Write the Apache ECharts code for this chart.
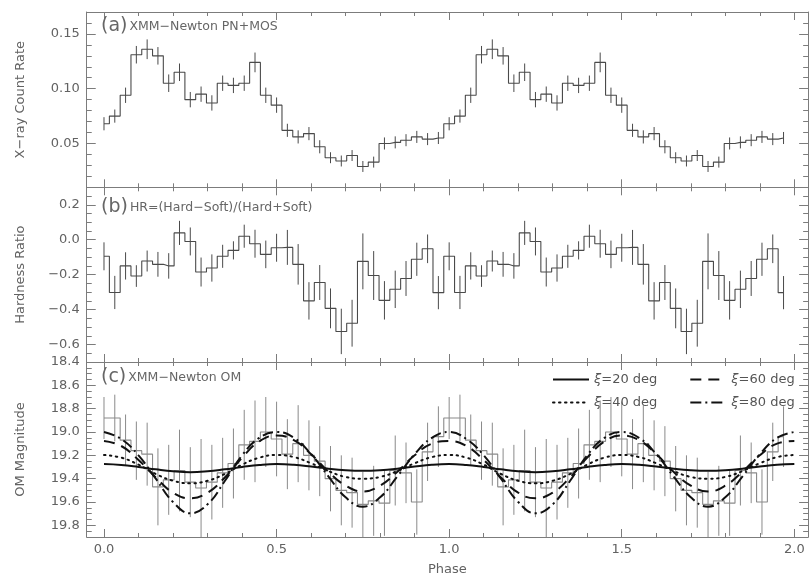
<!DOCTYPE html>
<html><head><meta charset="utf-8">
<script src="https://cdn.jsdelivr.net/npm/echarts@6/dist/echarts.min.js"></script>
<style>html,body{margin:0;padding:0;background:#fff}#c{width:809px;height:580px}</style>
</head><body><div id="c"></div>
<script>
// ---- data (one phase cycle; the figure shows the folded light curve twice) ----
const phaseBins = [0, 0.03125, 0.0625, 0.09375, 0.125, 0.15625, 0.1875, 0.21875, 0.25, 0.28125, 0.3125, 0.34375, 0.375, 0.40625, 0.4375, 0.46875,
  0.5, 0.53125, 0.5625, 0.59375, 0.625, 0.65625, 0.6875, 0.71875, 0.75, 0.78125, 0.8125, 0.84375, 0.875, 0.90625, 0.9375, 0.96875];
const cycles = [0, 1];

const countRate = [0.068, 0.075, 0.094, 0.131, 0.136, 0.130, 0.105, 0.115, 0.090, 0.095, 0.087, 0.105, 0.103, 0.105, 0.124, 0.094,
  0.085, 0.062, 0.056, 0.059, 0.047, 0.037, 0.034, 0.039, 0.029, 0.033, 0.050, 0.051, 0.053, 0.056, 0.054, 0.055];
const countRateErr = [0.006, 0.006, 0.007, 0.008, 0.009, 0.008, 0.008, 0.008, 0.007, 0.007, 0.007, 0.007, 0.007, 0.007, 0.009, 0.007,
  0.007, 0.006, 0.006, 0.006, 0.006, 0.005, 0.005, 0.005, 0.005, 0.005, 0.0055, 0.0055, 0.0055, 0.0055, 0.0055, 0.0055];

const hardness = [-0.095, -0.302, -0.150, -0.208, -0.122, -0.141, -0.150, 0.039, -0.010, -0.185, -0.162, -0.095, -0.061, 0.020, -0.023, -0.084,
  -0.046, -0.044, -0.141, -0.350, -0.245, -0.393, -0.525, -0.478, -0.124, -0.205, -0.347, -0.284, -0.222, -0.112, -0.052, -0.303];
const hardnessErr = [0.080, 0.095, 0.078, 0.062, 0.060, 0.071, 0.073, 0.069, 0.080, 0.083, 0.078, 0.066, 0.052, 0.066, 0.080, 0.079,
  0.080, 0.100, 0.116, 0.107, 0.100, 0.114, 0.130, 0.134, 0.160, 0.140, 0.110, 0.107, 0.100, 0.095, 0.082, 0.095];

const omMag = [18.88, 18.88, 19.07, 19.16, 19.19, 19.47, 19.41, 19.33, 19.43, 19.48, 19.43, 19.35, 19.27, 19.11, 19.08, 19.00,
  19.06, 19.19, 19.10, 19.20, 19.25, 19.40, 19.50, 19.52, 19.62, 19.59, 19.61, 19.33, 19.35, 19.60, 19.17, 19.04];
const omMagErr = [0.18, 0.20, 0.22, 0.25, 0.27, 0.33, 0.30, 0.35, 0.30, 0.42, 0.32, 0.30, 0.30, 0.30, 0.35, 0.30,
  0.32, 0.30, 0.33, 0.30, 0.30, 0.28, 0.30, 0.30, 0.28, 0.30, 0.28, 0.30, 0.26, 0.28, 0.25, 0.26];

const modelPhase = [0, 0.05, 0.10, 0.15, 0.20, 0.25, 0.30, 0.35, 0.40, 0.45, 0.50, 0.55, 0.60, 0.65, 0.70, 0.75, 0.80, 0.85, 0.90, 0.95];
const model20 = [19.275, 19.283, 19.300, 19.320, 19.337, 19.345, 19.337, 19.320, 19.300, 19.283, 19.275, 19.281, 19.296, 19.314, 19.327, 19.332, 19.327, 19.314, 19.296, 19.281];
const model40 = [19.197, 19.220, 19.280, 19.360, 19.418, 19.440, 19.418, 19.360, 19.280, 19.220, 19.197, 19.215, 19.268, 19.335, 19.385, 19.400, 19.385, 19.335, 19.268, 19.215];
const model60 = [19.077, 19.120, 19.240, 19.390, 19.520, 19.568, 19.520, 19.390, 19.220, 19.080, 19.030, 19.070, 19.190, 19.340, 19.460, 19.510, 19.460, 19.340, 19.200, 19.100];
const model80 = [19.000, 19.060, 19.200, 19.400, 19.600, 19.697, 19.620, 19.420, 19.200, 19.050, 19.000, 19.050, 19.190, 19.380, 19.560, 19.640, 19.560, 19.380, 19.190, 19.050];
const modelNames = ['ξ=20 deg', 'ξ=40 deg', 'ξ=60 deg', 'ξ=80 deg'];

// ---- ticks ----
const xMajorTicks = [0, 0.5, 1.0, 1.5, 2.0];
const xMinorTicks = [0.1, 0.2, 0.3, 0.4, 0.6, 0.7, 0.8, 0.9, 1.1, 1.2, 1.3, 1.4, 1.6, 1.7, 1.8, 1.9];
const aMajorTicks = [0.05, 0.10, 0.15];
const aMinorTicks = [0.02, 0.03, 0.04, 0.06, 0.07, 0.08, 0.09, 0.11, 0.12, 0.13, 0.14, 0.16];
const bMajorTicks = [-0.6, -0.4, -0.2, 0.0, 0.2];
const bMinorTicks = [-0.65, -0.55, -0.5, -0.45, -0.35, -0.3, -0.25, -0.15, -0.1, -0.05, 0.05, 0.1, 0.15, 0.25];
const cMajorTicks = [18.4, 18.6, 18.8, 19.0, 19.2, 19.4, 19.6, 19.8];
const cMinorTicks = [18.45, 18.5, 18.55, 18.65, 18.7, 18.75, 18.85, 18.9, 18.95, 19.05, 19.1, 19.15, 19.25, 19.3, 19.35, 19.45, 19.5, 19.55, 19.65, 19.7, 19.75, 19.85];

// ---- build ----
const FONT = 'DejaVu Sans';
const AX = '#7c7c7c';
const LBL = '#626262';
const XMIN = -0.05, XMAX = 2.04;

const panels = [
  { top: 12, height: 175.3, min: 0.01, max: 0.17, inverse: false, major: aMajorTicks, minor: aMinorTicks,
    fmt: v => v.toFixed(2), name: 'X−ray Count Rate' },
  { top: 187.3, height: 174.7, min: -0.7, max: 0.3, inverse: false, major: bMajorTicks, minor: bMinorTicks,
    fmt: v => (v < -1e-9 ? '−' : '') + Math.abs(v).toFixed(1), name: 'Hardness Ratio' },
  { top: 362, height: 175, min: 18.4, max: 19.9, inverse: true, major: cMajorTicks, minor: cMinorTicks,
    fmt: v => v.toFixed(1), name: 'OM Magnitude' }
];

const grid = panels.map(p => ({ left: 86.74, width: 721.4, top: p.top, height: p.height }));

const xAxis = [], yAxis = [];
panels.forEach((p, g) => {
  ['bottom', 'top'].forEach(pos => {
    [true, false].forEach(major => {
      const showLabel = major && pos === 'bottom' && g === 2;
      const ax = {
        type: 'value', gridIndex: g, min: XMIN, max: XMAX, position: pos,
        splitLine: { show: false },
        axisLine: { show: major, onZero: false, lineStyle: { color: AX, width: 1 } },
        axisTick: { show: true, inside: true, length: major ? 8 : 4, customValues: major ? xMajorTicks : xMinorTicks, lineStyle: { color: AX } },
        axisLabel: { show: showLabel, customValues: xMajorTicks, formatter: v => v.toFixed(1), color: LBL, fontFamily: FONT, fontSize: 13, margin: 6 }
      };
      if (showLabel) {
        ax.name = 'Phase'; ax.nameLocation = 'middle'; ax.nameGap = 26;
        ax.nameTextStyle = { color: LBL, fontFamily: FONT, fontSize: 13 };
      }
      xAxis.push(ax);
    });
  });
  ['left', 'right'].forEach(pos => {
    [true, false].forEach(major => {
      const showLabel = major && pos === 'left';
      const ax = {
        type: 'value', gridIndex: g, min: p.min, max: p.max, inverse: p.inverse, position: pos,
        splitLine: { show: false },
        axisLine: { show: major, onZero: false, lineStyle: { color: AX, width: 1 } },
        axisTick: { show: true, inside: true, length: major ? 9 : 5, customValues: major ? p.major : p.minor, lineStyle: { color: AX } },
        axisLabel: { show: showLabel, customValues: p.major, formatter: p.fmt, color: LBL, fontFamily: FONT, fontSize: 13, margin: 7 }
      };
      if (showLabel) {
        ax.name = p.name; ax.nameLocation = 'middle'; ax.nameGap = 60;
        ax.nameTextStyle = { color: LBL, fontFamily: FONT, fontSize: 13 };
      }
      yAxis.push(ax);
    });
  });
});

function stepData(vals) {
  const out = [];
  cycles.forEach(c => phaseBins.forEach((p, i) => out.push([p + c, vals[i]])));
  return out;
}
function errData(vals, errs) {
  const out = [];
  cycles.forEach(c => phaseBins.forEach((p, i) => out.push([p + c, vals[i], errs[i]])));
  return out;
}
function modelData(vals) {
  const out = [];
  cycles.forEach(c => modelPhase.forEach((p, i) => out.push([p + c, vals[i]])));
  out.push([2.0, vals[0]]);
  return out;
}
function errSeries(g, data, color) {
  return {
    type: 'custom', xAxisIndex: g * 4, yAxisIndex: g * 4, data, clip: true, silent: true,
    encode: { x: 0, y: 1 },
    renderItem: (params, api) => {
      const x = api.value(0), y = api.value(1), e = api.value(2);
      const a = api.coord([x, y - e]), b = api.coord([x, y + e]);
      return { type: 'line', shape: { x1: a[0], y1: a[1], x2: b[0], y2: b[1] }, style: { stroke: color, lineWidth: 1 } };
    }
  };
}
function histSeries(g, data, color) {
  return { type: 'line', step: 'middle', xAxisIndex: g * 4, yAxisIndex: g * 4, data, symbol: 'none', silent: true,
    lineStyle: { color, width: 1.1 }, z: 3 };
}

const series = [
  histSeries(0, stepData(countRate), '#4a4a4a'),
  errSeries(0, errData(countRate, countRateErr), '#4a4a4a'),
  histSeries(1, stepData(hardness), '#4a4a4a'),
  errSeries(1, errData(hardness, hardnessErr), '#4a4a4a'),
  histSeries(2, stepData(omMag), '#8a8a8a'),
  errSeries(2, errData(omMag, omMagErr), '#8a8a8a')
];
const modelVals = [model20, model40, model60, model80];
const modelDash = ['solid', [1.5, 4.5], [11, 7], [11, 4, 2, 4]];
modelVals.forEach((vals, i) => {
  series.push({
    type: 'line', name: modelNames[i], xAxisIndex: 8, yAxisIndex: 8, data: modelData(vals),
    smooth: 0.45, symbol: 'none', showSymbol: false, silent: true, z: 5, color: '#111',
    itemStyle: { color: '#111' },
    lineStyle: { color: '#111', width: 2, type: modelDash[i], cap: i === 1 ? 'round' : 'butt' }
  });
});

const legendText = { color: '#555', fontFamily: FONT, fontSize: 13, rich: { x: { fontStyle: 'italic', color: '#555', fontFamily: FONT, fontSize: 13 } } };
const legFmt = n => '{x|ξ}' + n.slice(1);
const legendBase = { itemWidth: 36, itemHeight: 14, itemGap: 32, selectedMode: false, textStyle: legendText, formatter: legFmt,
  itemStyle: { opacity: 0 }, lineStyle: { width: 2 } };
const legend = [
  Object.assign({ top: 368, left: 547, data: [modelNames[0], modelNames[2]] }, legendBase),
  Object.assign({ top: 391, left: 547, data: [modelNames[1], modelNames[3]] }, legendBase)
];

const panelLabels = [['(a)', 'XMM−Newton PN+MOS'], ['(b)', 'HR=(Hard−Soft)/(Hard+Soft)'], ['(c)', 'XMM−Newton OM']];
const labelTops = [12, 193, 363];
const title = panelLabels.map((l, i) => ({
  left: 96, top: labelTops[i],
  text: '{p|' + l[0] + '}{t|' + l[1] + '}',
  textStyle: { fontWeight: 'normal', rich: {
    p: { fontSize: 19, fontFamily: FONT, fontWeight: 'normal', color: '#666' },
    t: { fontSize: 12.5, fontFamily: FONT, fontWeight: 'normal', color: '#666', padding: [0, 0, 0, 2] }
  } }
}));

const chart = echarts.init(document.getElementById('c'), null, { renderer: 'canvas' });
chart.setOption({ animation: false, backgroundColor: '#fff', grid, xAxis, yAxis, series, legend, title });
</script>
</body></html>
